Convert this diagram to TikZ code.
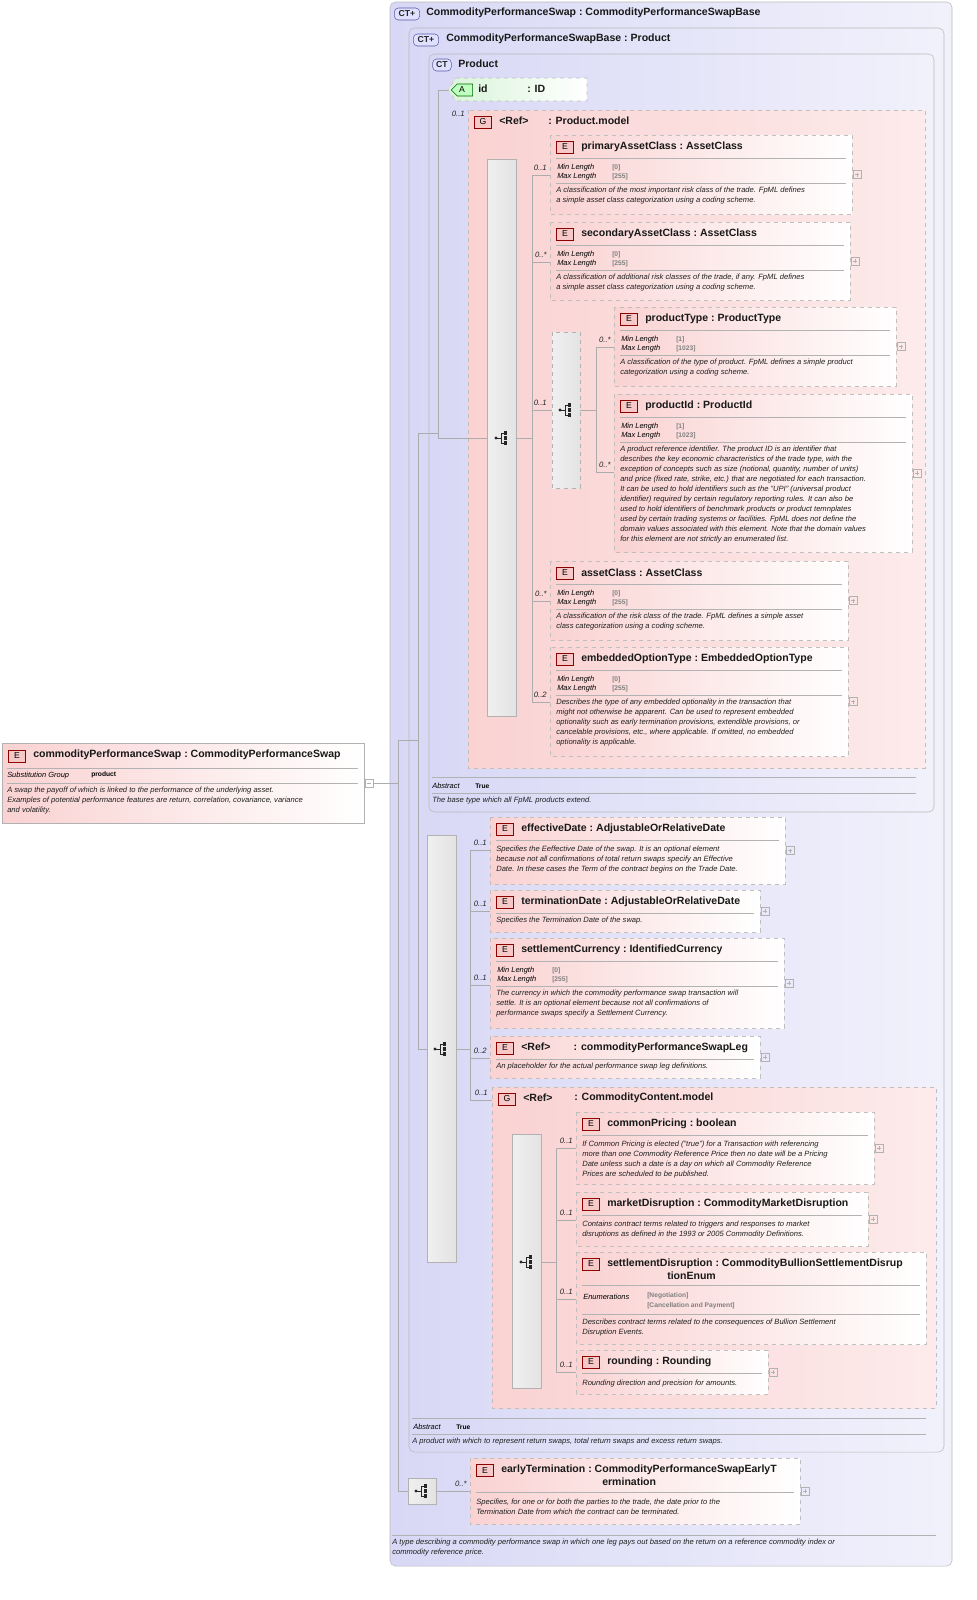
\documentclass[tikz,border=0pt]{standalone}
\usepackage{fontspec}
\setmainfont{Liberation Sans}
\usetikzlibrary{positioning,shapes.misc}
\definecolor{ctfill}{HTML}{D8D8F6}
\definecolor{elpink}{HTML}{FAD2D2}
\definecolor{badgepink}{HTML}{F6C8C8}
\definecolor{attrgreen}{HTML}{D8F4D8}

\tikzset{
  ctbox/.style={draw=gray!55, rounded corners=4pt, left color=ctfill, right color=ctfill!35},
  elbox/.style={draw=gray!50, dashed, left color=elpink, right color=white},
  grpbox/.style={draw=gray!50, dashed, left color=elpink, right color=elpink!45},
  seqbar/.style={draw=gray!60, left color=gray!12, right color=gray!22},
  badge/.style={draw=red!55!black, fill=badgepink, font=\fontsize{6.5}{7}\selectfont, inner sep=0pt, minimum width=13pt, minimum height=9pt},
  ctbadge/.style={draw=gray!70!blue, fill=blue!12, rounded corners=3pt, font=\bfseries\fontsize{6.5}{7}\selectfont, text=gray!30!black, inner sep=0pt, minimum width=19pt, minimum height=9pt},
  ttl/.style={anchor=west, font=\bfseries\fontsize{7.9}{9}\selectfont, text=gray!20!black, inner sep=0pt},
  prop/.style={anchor=west, font=\itshape\fontsize{5.6}{7}\selectfont, inner sep=0pt},
  propv/.style={anchor=west, font=\bfseries\fontsize{5}{6}\selectfont, text=gray, inner sep=0pt},
  desc/.style={anchor=north west, align=left, font=\itshape\fontsize{5.7}{7.5}\selectfont, text=gray!25!black, inner sep=0pt},
  card/.style={anchor=south east, font=\itshape\fontsize{5.8}{7}\selectfont, text=gray!30!black, inner sep=0pt},
  sep/.style={draw=gray!60, line width=0.4pt},
  plusbox/.style={draw=gray!60, line width=0.4pt},
  wire/.style={draw=gray!65, line width=0.5pt},
}

% element box: id, x1, y1, x2, y2, title, wire y
\newcommand\elem[7]{%
  \path[elbox] (#2,#3) rectangle (#4,#5);
  \node[badge] at (#2+15,#3+12) {E};
  \node[ttl] at (#2+31,#3+12) {#6};
  \draw[sep] (#2+6,#3+23) -- (#4-6,#3+23);
  \draw[plusbox] (#4+1,{(#3+#5)/2-4}) rectangle ++(8,8);
  \draw[plusbox] (#4+3,{(#3+#5)/2}) -- ++(4,0) (#4+5,{(#3+#5)/2-2}) -- ++(0,4);
  \coordinate (#1) at (#2,#7);
}
% min/max facets: x1, x2, y1, min, max
\newcommand\minmax[5]{%
  \node[prop] at (#1+7,#3+33) {Min Length};
  \node[propv] at (#1+62,#3+33) {[#4]};
  \node[prop] at (#1+7,#3+42) {Max Length};
  \node[propv] at (#1+62,#3+42) {[#5]};
  \draw[sep] (#1+6,#3+48) -- (#2-6,#3+48);
}
\newcommand\desc[3]{\node[desc] at (#1+6,#2) {#3};}
\newcommand\card[3]{\node[card] at (#1-3,#2-4) {#3};}
% sequence icon
\newcommand\seqicon[2]{%
  \fill[gray!30!black] (#1-6,#2) circle (1.6);
  \draw[gray!30!black, line width=0.6pt] (#1-6,#2) -- (#1-1,#2) (#1-1,#2-5) -- (#1-1,#2+5)
    (#1-1,#2-5) -- (#1+2,#2-5) (#1-1,#2+5) -- (#1+2,#2+5);
  \foreach \d in {-5,0,5} \fill[gray!30!black] (#1+2,#2+\d-1.6) rectangle ++(3.2,3.2);
}

\begin{document}
\begin{tikzpicture}[x=0.75pt, y=-0.75pt]
  % Complex types
  \path[ctbox] (390,2) rectangle (952,1566);
  \node[ctbadge] at (407,14) {CT+};
  \node[ttl] at (426,13) {CommodityPerformanceSwap\ :\ CommodityPerformanceSwapBase};
  \path[ctbox] (409,28) rectangle (944,1452);
  \node[ctbadge] at (426,40) {CT+};
  \node[ttl] at (446,39) {CommodityPerformanceSwapBase\ :\ Product};
  \path[ctbox] (429,54) rectangle (934,812);
  \node[ctbadge, minimum width=14pt] at (442,65) {CT};
  \node[ttl] at (458,64) {Product};

  % attribute
  \path[draw=gray!50, dashed, left color=attrgreen, right color=white] (456,78) -- (587,78) -- (587,101) -- (456,101) -- (448,90) -- cycle;
  \node[draw=green!40!black, fill=green!25, inner sep=0pt, minimum width=16pt, minimum height=9pt, font=\fontsize{6.5}{7}\selectfont, chamfered rectangle, chamfered rectangle corners={north west,south west}] at (462,90) {A};
  \node[ttl] at (478,89) {id};
  \node[ttl] at (527,89) {: ID};
  \coordinate (id) at (448,90);

  % Product.model group
  \path[grpbox] (468,110) rectangle (925,768);
  \node[badge] at (483,122) {G};
  \node[ttl] at (499,121) {<Ref>};
  \node[ttl] at (548,121) {: Product.model};
  \node[card] at (465,117) {0..1};
  \path[seqbar] (487,159) rectangle (516,716);
  \seqicon{502}{438}
  \coordinate (seqA) at (516,438);
  \coordinate (seqAin) at (487,438);

  \elem{primary}{550}{135}{852}{214}{primaryAssetClass\ :\ AssetClass}{175}
  \minmax{550}{852}{135}{0}{255}
  \desc{550}{187}{A classification of the most important risk class of the trade. FpML defines\\a simple asset class categorization using a coding scheme.}
  \card{550}{175}{0..1}

  \elem{secondary}{550}{222}{850}{300}{secondaryAssetClass\ :\ AssetClass}{262}
  \minmax{550}{850}{222}{0}{255}
  \desc{550}{274}{A classification of additional risk classes of the trade, if any. FpML defines\\a simple asset class categorization using a coding scheme.}
  \card{550}{262}{0..*}

  \path[seqbar, dashed] (552,332) rectangle (580,488);
  \seqicon{566}{410}
  \coordinate (choice) at (552,410);
  \coordinate (choiceout) at (580,410);
  \card{550}{410}{0..1}

  \elem{ptype}{614}{307}{896}{386}{productType\ :\ ProductType}{347}
  \minmax{614}{896}{307}{1}{1023}
  \desc{614}{359}{A classification of the type of product. FpML defines a simple product\\categorization using a coding scheme.}
  \card{614}{347}{0..*}

  \elem{pid}{614}{394}{912}{552}{productId\ :\ ProductId}{472}
  \minmax{614}{912}{394}{1}{1023}
  \desc{614}{446}{A product reference identifier. The product ID is an identifier that\\describes the key economic characteristics of the trade type, with the\\exception of concepts such as size (notional, quantity, number of units)\\and price (fixed rate, strike, etc.) that are negotiated for each transaction.\\It can be used to hold identifiers such as the "UPI" (universal product\\identifier) required by certain regulatory reporting rules. It can also be\\used to hold identifiers of benchmark products or product temnplates\\used by certain trading systems or facilities. FpML does not define the\\domain values associated with this element. Note that the domain values\\for this element are not strictly an enumerated list.}
  \card{614}{472}{0..*}

  \elem{asset}{550}{561}{848}{640}{assetClass\ :\ AssetClass}{601}
  \minmax{550}{848}{561}{0}{255}
  \desc{550}{613}{A classification of the risk class of the trade. FpML defines a simple asset\\class categorization using a coding scheme.}
  \card{550}{601}{0..*}

  \elem{embedded}{550}{647}{848}{756}{embeddedOptionType\ :\ EmbeddedOptionType}{702}
  \minmax{550}{848}{647}{0}{255}
  \desc{550}{699}{Describes the type of any embedded optionality in the transaction that\\might not otherwise be apparent. Can be used to represent embedded\\optionality such as early termination provisions, extendible provisions, or\\cancelable provisions, etc., where applicable. If omitted, no embedded\\optionality is applicable.}
  \card{550}{702}{0..2}

  \draw[sep] (432,777) -- (916,777);
  \node[prop] at (432,786) {Abstract};
  \node[propv, text=black] at (475,786) {True};
  \draw[sep] (432,793) -- (916,793);
  \desc{426}{797}{The base type which all FpML products extend.}

  % sequence of CommodityPerformanceSwapBase
  \path[seqbar] (427,835) rectangle (456,1262);
  \seqicon{441}{1049}
  \coordinate (seqB) at (456,1049);
  \coordinate (seqBin) at (427,1049);

  \elem{effective}{490}{817}{785}{884}{effectiveDate\ :\ AdjustableOrRelativeDate}{850}
  \desc{490}{846}{Specifies the Eeffective Date of the swap. It is an optional element\\because not all confirmations of total return swaps specify an Effective\\Date. In these cases the Term of the contract begins on the Trade Date.}
  \card{490}{850}{0..1}

  \elem{termination}{490}{890}{760}{932}{terminationDate\ :\ AdjustableOrRelativeDate}{911}
  \desc{490}{917}{Specifies the Termination Date of the swap.}
  \card{490}{911}{0..1}

  \elem{currency}{490}{938}{784}{1028}{settlementCurrency\ :\ IdentifiedCurrency}{985}
  \minmax{490}{784}{938}{0}{255}
  \desc{490}{990}{The currency in which the commodity performance swap transaction will\\settle. It is an optional element because not all confirmations of\\performance swaps specify a Settlement Currency.}
  \card{490}{985}{0..1}

  \elem{leg}{490}{1036}{760}{1078}{<Ref>\hspace{2.2em}: commodityPerformanceSwapLeg}{1058}
  \desc{490}{1063}{An placeholder for the actual performance swap leg definitions.}
  \card{490}{1058}{0..2}

  % CommodityContent.model group
  \path[grpbox] (492,1087) rectangle (936,1408);
  \node[badge] at (507,1099) {G};
  \node[ttl] at (523,1098) {<Ref>};
  \node[ttl] at (574,1098) {: CommodityContent.model};
  \coordinate (content) at (492,1100);
  \node[card] at (488,1096) {0..1};
  \path[seqbar] (512,1134) rectangle (541,1388);
  \seqicon{527}{1262}
  \coordinate (seqD) at (541,1262);

  \elem{pricing}{576}{1112}{874}{1184}{commonPricing\ :\ boolean}{1148}
  \desc{576}{1141}{If Common Pricing is elected ("true") for a Transaction with referencing\\more than one Commodity Reference Price then no date will be a Pricing\\Date unless such a date is a day on which all Commodity Reference\\Prices are scheduled to be published.}
  \card{576}{1148}{0..1}

  \elem{market}{576}{1192}{868}{1246}{marketDisruption\ :\ CommodityMarketDisruption}{1220}
  \desc{576}{1221}{Contains contract terms related to triggers and responses to market\\disruptions as defined in the 1993 or 2005 Commodity Definitions.}
  \card{576}{1220}{0..1}

  \path[elbox] (576,1252) rectangle (926,1344);
  \node[badge] at (591,1264) {E};
  \node[ttl] at (607,1264) {settlementDisruption\ :\ CommodityBullionSettlementDisrup};
  \node[ttl] at (667,1276) {tionEnum};
  \draw[sep] (582,1285) -- (920,1285);
  \node[prop] at (583,1297) {Enumerations};
  \node[propv] at (647,1296) {[Negotiation]};
  \node[propv] at (647,1306) {[Cancellation and Payment]};
  \draw[sep] (582,1314) -- (920,1314);
  \desc{576}{1319}{Describes contract terms related to the consequences of Bullion Settlement\\Disruption Events.}
  \coordinate (bullion) at (576,1299);
  \card{576}{1299}{0..1}

  \elem{rounding}{576}{1350}{768}{1394}{rounding\ :\ Rounding}{1372}
  \desc{576}{1380}{Rounding direction and precision for amounts.}
  \card{576}{1372}{0..1}

  \draw[sep] (412,1418) -- (926,1418);
  \node[prop] at (413,1427) {Abstract};
  \node[propv, text=black] at (456,1427) {True};
  \draw[sep] (412,1434) -- (926,1434);
  \desc{406}{1438}{A product with which to represent return swaps, total return swaps and excess return swaps.}

  % sequence of CommodityPerformanceSwap
  \path[seqbar] (408,1478) rectangle (436,1504);
  \seqicon{422}{1491}
  \coordinate (seqC) at (436,1491);
  \coordinate (seqCin) at (408,1491);

  \path[elbox] (470,1458) rectangle (800,1524);
  \node[badge] at (485,1470) {E};
  \node[ttl] at (501,1470) {earlyTermination\ :\ CommodityPerformanceSwapEarlyT};
  \node[ttl] at (602,1482) {ermination};
  \draw[sep] (476,1492) -- (794,1492);
  \desc{470}{1499}{Specifies, for one or for both the parties to the trade, the date prior to the\\Termination Date from which the contract can be terminated.}
  \draw[plusbox] (801,1487) rectangle ++(8,8);
  \draw[plusbox] (803,1491) -- ++(4,0) (805,1489) -- ++(0,4);
  \coordinate (early) at (470,1491);
  \card{470}{1491}{0..*}

  \draw[sep] (392,1535) -- (936,1535);
  \desc{386}{1539}{A type describing a commodity performance swap in which one leg pays out based on the return on a reference commodity index or\\commodity reference price.}

  % top element
  \path[draw=gray!60, left color=elpink, right color=white] (2,743) rectangle (364,823);
  \node[badge] at (17,756) {E};
  \node[ttl] at (33,755) {commodityPerformanceSwap\ :\ CommodityPerformanceSwap};
  \draw[sep] (7,768) -- (358,768);
  \node[prop] at (7,776) {Substitution Group};
  \node[propv, text=black] at (91,775) {product};
  \draw[sep] (7,783) -- (358,783);
  \desc{1}{787}{A swap the payoff of which is linked to the performance of the underlying asset.\\Examples of potential performance features are return, correlation, covariance, variance\\and volatility.}
  \draw[plusbox] (365,779) rectangle ++(8,8);
  \draw[plusbox] (367,783) -- ++(4,0);
  \coordinate (root) at (373,783);

  % Wires
  \coordinate (jroot) at (398,783);
  \coordinate (jbase) at (418,740);
  \coordinate (jprod) at (438,433);
  \draw[wire] (root) -- (jroot);
  \draw[wire] (398,740) -- (398,1491) (398,740) -- (jbase);
  \draw[wire] (418,433) -- (418,1049) (418,433) -- (jprod);
  \draw[wire] (438,90) -- (id) (438,90) -- (438,438) -- (seqAin);
  \draw[wire] (418,1049) -- (seqBin);
  \draw[wire] (398,1491) -- (seqCin);
  \draw[wire] (seqC) -- (early);

  \draw[wire] (seqA) -- (532,438);
  \foreach \t in {primary,secondary,choice,asset,embedded} \draw[wire] (532,438) |- (\t);
  \draw[wire] (choiceout) -- (596,410);
  \foreach \t in {ptype,pid} \draw[wire] (596,410) |- (\t);

  \draw[wire] (seqB) -- (470,1049);
  \foreach \t in {effective,termination,currency,leg,content} \draw[wire] (470,1049) |- (\t);

  \draw[wire] (seqD) -- (556,1262);
  \foreach \t in {pricing,market,bullion,rounding} \draw[wire] (556,1262) |- (\t);

  \pgfresetboundingbox
  \useasboundingbox (0,0) rectangle (976,1600);
\end{tikzpicture}
\end{document}
